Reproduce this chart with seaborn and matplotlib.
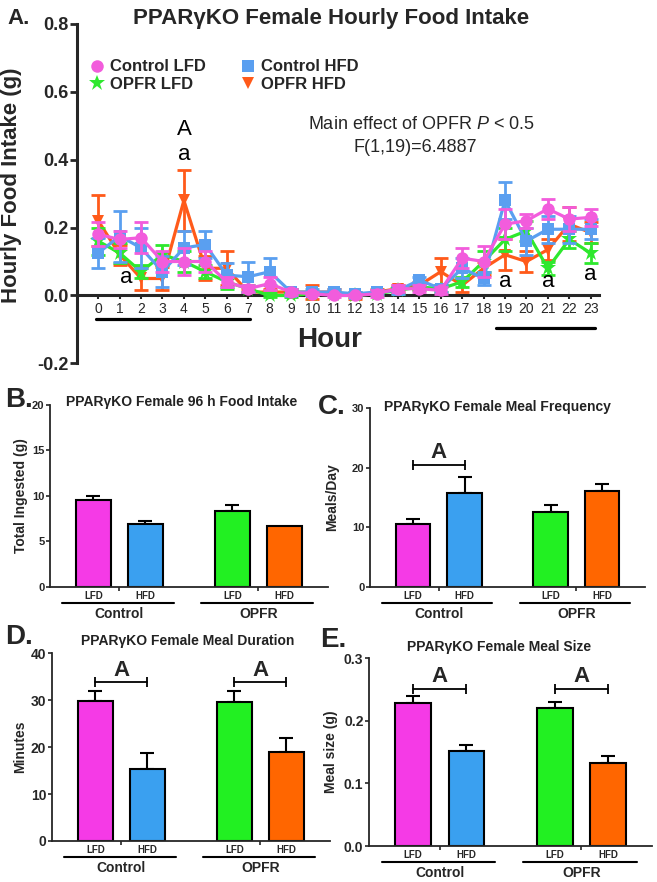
import numpy as np
import pandas as pd
import seaborn as sns
import matplotlib.pyplot as plt
from matplotlib.lines import Line2D
from matplotlib.transforms import offset_copy

# ---- hourly food intake (panel A) ----
hours = list(range(24))
ctrl_lfd = [0.18, 0.165, 0.17, 0.10, 0.10, 0.10, 0.04, 0.02, 0.035, 0.01, 0.005, 0.0,
            0.0, 0.005, 0.02, 0.02, 0.015, 0.11, 0.10, 0.21, 0.22, 0.255, 0.225, 0.23]
ctrl_lfd_sem = [0.035, 0.025, 0.045, 0.03, 0.04, 0.03, 0.015, 0.01, 0.02, 0.01, 0.005, 0.005,
                0.005, 0.01, 0.01, 0.01, 0.01, 0.03, 0.045, 0.045, 0.02, 0.03, 0.035, 0.025]
ctrl_hfd = [0.125, 0.175, 0.14, 0.07, 0.14, 0.15, 0.06, 0.055, 0.07, 0.01, 0.01, 0.01,
            0.005, 0.01, 0.015, 0.045, 0.02, 0.08, 0.05, 0.28, 0.16, 0.195, 0.195, 0.195]
ctrl_hfd_sem = [0.045, 0.075, 0.06, 0.045, 0.05, 0.04, 0.035, 0.045, 0.04, 0.01, 0.01, 0.01,
                0.005, 0.005, 0.01, 0.01, 0.01, 0.03, 0.02, 0.055, 0.04, 0.04, 0.04, 0.03]
opfr_lfd = [0.16, 0.125, 0.07, 0.12, 0.10, 0.07, 0.04, 0.02, 0.0, 0.0, 0.005, 0.005,
            0.0, 0.005, 0.015, 0.025, 0.02, 0.04, 0.10, 0.165, 0.19, 0.08, 0.165, 0.125]
opfr_lfd_sem = [0.04, 0.03, 0.02, 0.03, 0.03, 0.02, 0.02, 0.01, 0.005, 0.005, 0.005, 0.005,
                0.005, 0.005, 0.01, 0.01, 0.01, 0.015, 0.03, 0.035, 0.03, 0.02, 0.025, 0.03]
opfr_hfd = [0.22, 0.12, 0.05, 0.05, 0.28, 0.08, 0.08, 0.01, 0.01, 0.01, 0.01, 0.01,
            0.0, 0.01, 0.02, 0.03, 0.07, 0.03, 0.08, 0.12, 0.10, 0.135, 0.21, 0.185]
opfr_hfd_sem = [0.075, 0.03, 0.035, 0.035, 0.09, 0.035, 0.05, 0.01, 0.01, 0.01, 0.02, 0.01,
                0.01, 0.01, 0.01, 0.01, 0.04, 0.02, 0.02, 0.045, 0.03, 0.03, 0.05, 0.03]

series_names = ['Control LFD', 'Control HFD', 'OPFR LFD', 'OPFR HFD']
line_colors = {'Control LFD': '#F25CDC', 'Control HFD': '#5A9FF0',
               'OPFR LFD': '#2EE82E', 'OPFR HFD': '#FF5A1A'}
line_markers = {'Control LFD': 'o', 'Control HFD': 's', 'OPFR LFD': '*', 'OPFR HFD': 'v'}

# significance letters on the hourly plot: (hour, y, text)
hour_letters = [(4, 0.49, 'A'), (4, 0.415, 'a'), (1.3, 0.053, 'a'),
                (19, 0.04, 'a'), (21, 0.04, 'a'), (23, 0.062, 'a')]
# light/dark phase bars: (start hour, end hour, y)
phase_bars = [(-0.1, 7.1, -0.068), (18.6, 23.2, -0.095)]

# ---- bar panels (B-E) ----
groups = ['Control', 'OPFR']
diets = ['LFD', 'HFD']
food_mean = [9.5, 6.9, 8.3, 6.7]
food_sem = [0.5, 0.3, 0.75, 0.0]
freq_mean = [10.5, 15.8, 12.6, 16.1]
freq_sem = [0.9, 2.6, 1.1, 1.1]
dur_mean = [29.9, 15.4, 29.5, 19.0]
dur_sem = [2.1, 3.4, 2.5, 2.9]
size_mean = [0.228, 0.152, 0.221, 0.132]
size_sem = [0.011, 0.010, 0.009, 0.011]
bar_colors = {('Control', 'LFD'): '#F53AE6', ('Control', 'HFD'): '#3AA0F0',
              ('OPFR', 'LFD'): '#22F022', ('OPFR', 'HFD'): '#FF6600'}

sns.set_style('ticks')
plt.rcParams['font.family'] = ['Liberation Sans', 'DejaVu Sans']
plt.rcParams['mathtext.fontset'] = 'custom'
plt.rcParams['mathtext.rm'] = 'Liberation Sans'
plt.rcParams['mathtext.it'] = 'Liberation Sans:italic'

fig = plt.figure(figsize=(6.57, 8.82), dpi=100)

# ================= Panel A =================
axA = fig.add_axes([0.117, 0.588, 0.795, 0.385])
rows = []
for name, m, s in [('Control LFD', ctrl_lfd, ctrl_lfd_sem), ('Control HFD', ctrl_hfd, ctrl_hfd_sem),
                   ('OPFR LFD', opfr_lfd, opfr_lfd_sem), ('OPFR HFD', opfr_hfd, opfr_hfd_sem)]:
    for h, v, e in zip(hours, m, s):
        rows.append({'hour': h, 'intake': v, 'sem': e, 'group': name})
hourly = pd.DataFrame(rows)

draw_order = ['OPFR HFD', 'OPFR LFD', 'Control HFD', 'Control LFD']
for i, name in enumerate(draw_order):
    d = hourly[hourly['group'] == name]
    axA.errorbar(d['hour'], d['intake'], yerr=d['sem'], fmt='none', ecolor=line_colors[name],
                 elinewidth=2, capsize=5, capthick=2, zorder=2 + i)
    sns.lineplot(data=d, x='hour', y='intake', color=line_colors[name], marker=line_markers[name],
                 markersize=9 if name != 'OPFR LFD' else 12, markeredgewidth=0, linewidth=2.3,
                 ax=axA, zorder=2.5 + i, legend=False)

axA.set_xlim(-1, 23.4)
axA.set_ylim(-0.2, 0.8)
axA.set_xticks(hours)
axA.set_xticklabels([str(h) for h in hours], fontsize=11, fontweight='bold')
axA.set_yticks([-0.2, 0.0, 0.2, 0.4, 0.6, 0.8])
axA.set_yticklabels([f'{t:.1f}' for t in [-0.2, 0.0, 0.2, 0.4, 0.6, 0.8]],
                    fontsize=13, fontweight='bold')
axA.spines['right'].set_visible(False)
axA.spines['top'].set_visible(False)
axA.spines['bottom'].set_position(('data', 0))
axA.spines['bottom'].set_linewidth(2.2)
axA.spines['left'].set_linewidth(2.2)
axA.tick_params(axis='y', direction='out', length=5, width=2, pad=1)
axA.tick_params(axis='x', direction='out', length=3, width=1.5, pad=2)
axA.set_xlabel('')
axA.set_ylabel('Hourly Food Intake (g)', fontsize=16, fontweight='bold')
axA.yaxis.set_label_coords(-0.105, 0.525)

for x, y, t in hour_letters:
    axA.text(x, y, t, fontsize=16, ha='center', va='center', color='black')
for x0, x1, y in phase_bars:
    axA.plot([x0, x1], [y, y], color='black', lw=2.3, clip_on=False)

axA.text(15.1, 0.504, r'Main effect of OPFR $\it{P}$ < 0.5', fontsize=13, ha='center', va='center')
axA.text(14.8, 0.436, 'F(1,19)=6.4887', fontsize=13, ha='center', va='center')

handles = [Line2D([], [], linestyle='none', marker=line_markers[n], color=line_colors[n],
                  markersize=9 if n != 'OPFR LFD' else 12, markeredgewidth=0) for n in series_names]
# column-first fill: Control LFD / OPFR LFD in column 1, Control HFD / OPFR HFD in column 2
order = [0, 2, 1, 3]
axA.legend([handles[i] for i in order], [series_names[i] for i in order], ncol=2,
           loc='upper left', bbox_to_anchor=(0.01, 0.915), frameon=False, borderaxespad=0,
           handlelength=1.0, handletextpad=0.3, columnspacing=2.0, labelspacing=0.15,
           prop={'size': 12, 'weight': 'bold'})

fig.text(0.504, 0.979, 'PPARγKO Female Hourly Food Intake', fontsize=16, fontweight='bold',
         ha='center', va='center')
fig.text(0.012, 0.979, 'A.', fontsize=16, fontweight='bold', ha='left', va='center')
fig.text(0.502, 0.614, 'Hour', fontsize=20, fontweight='bold', ha='center', va='center')


# ================= Bar panels =================
def bar_panel(ax, means, sems, yticks, ylabel, label_x, tick_size, sig_groups=(), sig_y=None):
    df = pd.DataFrame({'group': ['Control', 'Control', 'OPFR', 'OPFR'],
                       'diet': ['LFD', 'HFD', 'LFD', 'HFD'],
                       'value': means, 'sem': sems})
    sns.barplot(data=df, x='group', y='value', hue='diet', order=groups, hue_order=diets,
                width=0.75, gap=0.33, errorbar=None, edgecolor='black', linewidth=1.5,
                legend=False, ax=ax, zorder=2)
    centers = {}
    for diet, container in zip(diets, ax.containers):
        for grp, patch in zip(groups, container.patches):
            patch.set_facecolor(bar_colors[(grp, diet)])
            xc = patch.get_x() + patch.get_width() / 2
            centers[(grp, diet)] = xc
            row = df[(df['group'] == grp) & (df['diet'] == diet)].iloc[0]
            if row['sem'] > 0:
                ax.errorbar([xc], [row['value']], yerr=[[0], [row['sem']]], fmt='none',
                            ecolor='black', elinewidth=1.5, capsize=5, capthick=1.5, zorder=1)

    ax.set_xlim(-0.5, 1.5)
    ax.set_ylim(yticks[0], yticks[-1])
    ax.set_yticks(yticks)
    if yticks[-1] < 1:
        ax.set_yticklabels([f'{t:.1f}' for t in yticks])
    for lbl in ax.get_yticklabels():
        lbl.set_fontsize(tick_size)
        lbl.set_fontweight('bold')
    ax.set_xticks([0, 1])
    ax.set_xticklabels(['', ''])
    ax.tick_params(axis='both', direction='out', length=3, width=1.2, pad=1)
    for side in ['top', 'right']:
        ax.spines[side].set_visible(False)
    for side in ['left', 'bottom']:
        ax.spines[side].set_linewidth(1.3)
    ax.set_xlabel('')
    ax.set_ylabel(ylabel, fontsize=10, fontweight='bold')
    ax.yaxis.set_label_coords(label_x, 0.5)

    base = ax.get_xaxis_transform()
    t_diet = offset_copy(base, fig=fig, x=0, y=-9, units='dots')
    t_line = offset_copy(base, fig=fig, x=0, y=-16, units='dots')
    t_grp = offset_copy(base, fig=fig, x=0, y=-27, units='dots')
    for (grp, diet), xc in centers.items():
        ax.text(xc, 0, diet, transform=t_diet, fontsize=7, fontweight='bold',
                ha='center', va='center')
    for gi, grp in enumerate(groups):
        ax.plot([gi - 0.41, gi + 0.39], [0, 0], transform=t_line, color='black', lw=1.5,
                clip_on=False)
        ax.text(gi, 0, grp, transform=t_grp, fontsize=10, fontweight='bold',
                ha='center', va='center')

    for grp in sig_groups:
        x0, x1 = centers[(grp, 'LFD')], centers[(grp, 'HFD')]
        ax.plot([x0, x1], [sig_y, sig_y], color='black', lw=1.3, marker='|', markersize=7,
                markeredgewidth=1.3)
        ax.annotate('A', xy=((x0 + x1) / 2, sig_y), xytext=(0, 1), textcoords='offset points',
                    fontsize=16, fontweight='bold', ha='center', va='bottom')


axB = fig.add_axes([0.076, 0.3345, 0.423, 0.2065])
bar_panel(axB, food_mean, food_sem, [0, 5, 10, 15, 20], 'Total Ingested (g)', -0.08, 8)
axC = fig.add_axes([0.563, 0.3345, 0.419, 0.203])
bar_panel(axC, freq_mean, freq_sem, [0, 10, 20, 30], 'Meals/Day', -0.11, 8,
          sig_groups=['Control'], sig_y=20.5)
axD = fig.add_axes([0.079, 0.0465, 0.423, 0.213])
bar_panel(axD, dur_mean, dur_sem, [0, 10, 20, 30, 40], 'Minutes', -0.09, 10,
          sig_groups=['Control', 'OPFR'], sig_y=33.8)
axE = fig.add_axes([0.5616, 0.0408, 0.431, 0.213])
bar_panel(axE, size_mean, size_sem, [0.0, 0.1, 0.2, 0.3], 'Meal size (g)', -0.11, 10,
          sig_groups=['Control', 'OPFR'], sig_y=0.251)

panel_titles = [(0.277, 0.544, 'PPARγKO Female 96 h Food Intake'),
                (0.757, 0.539, 'PPARγKO Female Meal Frequency'),
                (0.286, 0.273, 'PPARγKO Female Meal Duration'),
                (0.760, 0.266, 'PPARγKO Female Meal Size')]
for x, y, t in panel_titles:
    fig.text(x, y, t, fontsize=10, fontweight='bold', color='#222222', ha='center', va='center')

panel_letters = [(0.008, 0.546, 'B.'), (0.484, 0.539, 'C.'), (0.008, 0.278, 'D.'), (0.487, 0.274, 'E.')]
for x, y, t in panel_letters:
    fig.text(x, y, t, fontsize=20, fontweight='bold', ha='left', va='center')

fig.savefig('out.png', dpi=100)
